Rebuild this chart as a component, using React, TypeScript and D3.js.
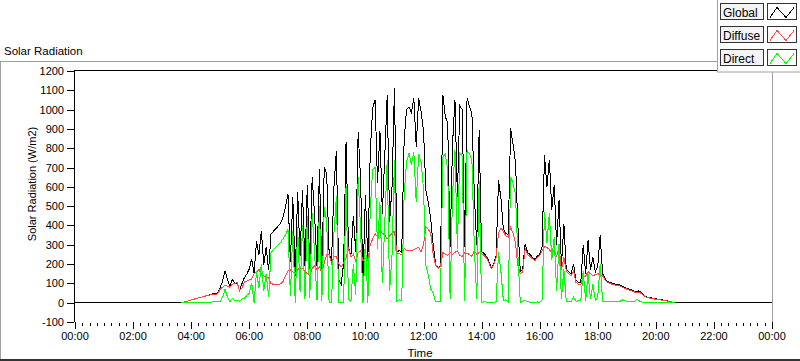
import * as d3 from 'd3';

// samples every 5 minutes starting at 03:40
const startMinute = 220;
const stepMinutes = 5;

const globalVals = [
  0, 3, 6, 10,
  14, 18, 21, 25, 28, 31, 35, 38, 42, 47, 44, 52,
  78, 112, 165, 118, 84, 120, 104, 96, 66, 99, 130, 148,
  175, 228, 150, 318, 248, 372, 196, 288, 168, 356, 370, 383,
  398, 412, 446, 498, 560, 210, 545, 140, 575, 240, 583, 190,
  610, 172, 651, 455, 188, 690, 162, 703, 669, 258, 212, 600,
  786, 120, 95, 205, 833, 290, 240, 450, 262, 885, 640, 120,
  560, 220, 780, 1010, 1049, 620, 890, 460, 760, 1075, 420, 600,
  1110, 262, 270, 258, 840, 1000, 1014, 985, 1060, 806, 1058, 990,
  893, 582, 520, 430, 300, 200, 182, 190, 1075, 965, 930, 287,
  820, 1050, 548, 1020, 1000, 290, 1060, 1015, 980, 560, 300, 893,
  265, 255, 240, 215, 180, 200, 245, 634, 540, 380, 360, 350,
  902, 820, 730, 400, 160, 175, 305, 260, 250, 235, 225, 240,
  250, 290, 763, 600, 740, 480, 610, 300, 530, 190, 410, 170,
  160, 150, 200, 115, 106, 104, 300, 150, 323, 170, 235, 160,
  190, 349, 150, 125, 110, 106, 100, 97, 96, 94, 86, 80,
  74, 70, 66, 60, 55, 62, 52, 40, 30, 27, 25, 22,
  20, 18, 16, 14, 12, 9, 6, 3, 0,
];

const diffuseVals = [
  0, 3, 6, 10,
  14, 18, 21, 25, 28, 31, 35, 38, 40, 43, 40, 46,
  70, 80, 90, 86, 80, 96, 100, 104, 62, 76, 107, 112,
  118, 122, 150, 160, 172, 150, 138, 132, 128, 98, 96, 95,
  95, 97, 110, 140, 165, 170, 160, 150, 172, 180, 176, 165,
  150, 142, 178, 190, 168, 186, 152, 205, 250, 250, 205, 237,
  237, 200, 185, 205, 230, 280, 237, 250, 215, 260, 270, 218,
  230, 220, 300, 330, 358, 340, 375, 360, 350, 330, 345, 360,
  370, 256, 254, 250, 280, 272, 270, 268, 275, 280, 287, 262,
  300, 392, 380, 360, 250, 195, 178, 185, 260, 250, 245, 260,
  250, 260, 270, 245, 240, 260, 255, 250, 240, 270, 250, 260,
  255, 245, 232, 208, 175, 195, 235, 360, 385, 370, 345, 340,
  390, 360, 310, 190, 150, 160, 280, 250, 240, 228, 218, 232,
  245, 270, 290, 287, 275, 260, 270, 240, 287, 170, 235, 165,
  150, 140, 165, 105, 96, 95, 135, 138, 160, 150, 140, 145,
  150, 145, 140, 118, 104, 100, 95, 92, 90, 88, 82, 76,
  70, 66, 62, 56, 52, 55, 48, 37, 28, 25, 23, 20,
  18, 16, 14, 12, 10, 8, 5, 3, 0,
];

const directVals = [
  0, 0, 0, 0,
  0, 0, 0, 0, 0, 0, 0, 0, 2, 4, 4, 6,
  6, 28, 70, 30, 6, 22, 12, 14, 8, 20, 22, 38,
  48, 104, 0, 162, 78, 200, 60, 150, 30, 258, 275, 288,
  300, 312, 332, 352, 380, 36, 372, 0, 390, 58, 400, 20,
  450, 22, 462, 260, 12, 500, 8, 495, 420, 0, 0, 360,
  550, 0, 0, 0, 605, 20, 5, 200, 40, 650, 380, 0,
  330, 0, 480, 690, 700, 280, 520, 100, 410, 737, 60, 250,
  740, 8, 15, 10, 560, 728, 775, 715, 780, 520, 770, 728,
  590, 190, 140, 70, 50, 5, 4, 5, 755, 770, 690, 20,
  560, 790, 280, 775, 760, 10, 790, 770, 740, 290, 20, 630,
  0, 5, 3, 0, 0, 0, 5, 260, 160, 10, 15, 5,
  650, 620, 560, 250, 0, 8, 12, 5, 3, 0, 2, 4,
  3, 15, 470, 310, 465, 220, 340, 60, 305, 20, 175, 5,
  5, 5, 30, 8, 10, 10, 165, 10, 150, 18, 95, 12,
  30, 200, 8, 6, 5, 4, 4, 4, 4, 5, 15, 10,
  8, 6, 4, 4, 18, 10, 4, 3, 2, 2, 2, 2,
  2, 2, 1, 1, 1, 1, 0, 0, 0,
];

const yTickValues = [-100, 0, 100, 200, 300, 400, 500, 600, 700, 800, 900, 1000, 1100, 1200];
const xTickHours = [0, 2, 4, 6, 8, 10, 12, 14, 16, 18, 20, 22, 24];
const xTickLabels = ['00:00', '02:00', '04:00', '06:00', '08:00', '10:00', '12:00', '14:00', '16:00', '18:00', '20:00', '22:00', '00:00'];

const legendNames = ['Global', 'Diffuse', 'Direct'];
const seriesColors = ['#000000', '#ff4545', '#00ff00'];

const font = '"Liberation Sans", Arial, sans-serif';

export default function App() {
  const width = 800;
  const height = 361;

  const x = d3.scaleLinear().domain([0, 24]).range([75, 772]);
  const y = d3.scaleLinear().domain([-100, 1200]).range([322, 71]);

  const hours = globalVals.map((_, i) => (startMinute + i * stepMinutes) / 60);
  const line = d3
    .line<[number, number]>()
    .x(d => x(d[0]))
    .y(d => y(d[1]));

  // global is logged all day (zero at night), the other two only in daylight
  const globalPts: [number, number][] = [[0, 0], ...hours.map((h, i) => [h, globalVals[i]] as [number, number]), [24, 0]];
  const diffusePts: [number, number][] = hours.map((h, i) => [h, diffuseVals[i]]);
  const directPts: [number, number][] = hours.map((h, i) => [h, directVals[i]]);

  const minorTicks = d3.range(0, 24.001, 0.25).filter(h => Math.abs(h % 2) > 0.01);

  return (
    <svg
      width={width}
      height={height}
      style={{ position: 'absolute', left: 0, top: 0, background: '#fff' }}
      fontFamily={font}
    >
      {/* outer frame */}
      <line x1={0} x2={717} y1={61.5} y2={61.5} stroke="#a0a0a0" />
      <line x1={0.5} x2={0.5} y1={61} y2={361} stroke="#a0a0a0" />
      <line x1={0} x2={800} y1={360} y2={360} stroke="#333" strokeWidth={2} />

      <text x={4} y={55} fontSize={11.5} fill="#000">Solar Radiation</text>

      {/* plot area */}
      <line x1={772.5} x2={772.5} y1={71} y2={322} stroke="#a0a0a0" />

      <g shapeRendering="crispEdges">
        <path d={line(globalPts) || ''} fill="none" stroke={seriesColors[0]} strokeWidth={1} />
        <path d={line(diffusePts) || ''} fill="none" stroke={seriesColors[1]} strokeWidth={1} />
        <path d={line(directPts) || ''} fill="none" stroke={seriesColors[2]} strokeWidth={1} />
      </g>

      <line x1={74.5} x2={74.5} y1={70} y2={322} stroke="#000" />
      <line x1={74} x2={717} y1={70.5} y2={70.5} stroke="#000" />

      {/* y axis */}
      {yTickValues.map(v => (
        <g key={v}>
          <line x1={67} x2={74} y1={Math.round(y(v)) + 0.5} y2={Math.round(y(v)) + 0.5} stroke="#000" />
          <text x={64} y={y(v) + 4} fontSize={11} textAnchor="end" fill="#000">
            {v}
          </text>
        </g>
      ))}
      <text
        transform={`translate(36,184) rotate(-90)`}
        fontSize={11}
        textAnchor="middle"
        fill="#000"
      >
        Solar Radiation (W/m2)
      </text>

      {/* x axis */}
      {minorTicks.map(h => (
        <line key={h} x1={Math.round(x(h)) + 0.5} x2={Math.round(x(h)) + 0.5} y1={323} y2={326} stroke="#000" />
      ))}
      {xTickHours.map((h, i) => (
        <g key={h}>
          <line x1={Math.round(x(h)) + 0.5} x2={Math.round(x(h)) + 0.5} y1={322} y2={329} stroke="#000" />
          <text x={x(h)} y={340} fontSize={11} textAnchor="middle" fill="#000">
            {xTickLabels[i]}
          </text>
        </g>
      ))}
      <text x={420} y={357} fontSize={11.5} textAnchor="middle" fill="#000">Time</text>

      {/* legend */}
      <rect x={717.5} y={-1} width={84} height={73} fill="#fff" stroke="#a0a0a0" />
      {legendNames.map((name, i) => {
        const top = 3.5 + i * 23;
        return (
          <g key={name}>
            <rect x={720.5} y={top} width={43} height={16} fill="#f4f4f4" stroke="#333" />
            <text x={723} y={top + 13} fontSize={12} fill="#000">{name}</text>
            <rect x={767.5} y={top} width={29} height={16} fill="#fff" stroke="#333" />
            <polyline
              points={`770,${top + 14} 777,${top + 4} 786,${top + 14} 794,${top + 4}`}
              fill="none"
              stroke={seriesColors[i]}
              shapeRendering="crispEdges"
            />
          </g>
        );
      })}
    </svg>
  );
}
